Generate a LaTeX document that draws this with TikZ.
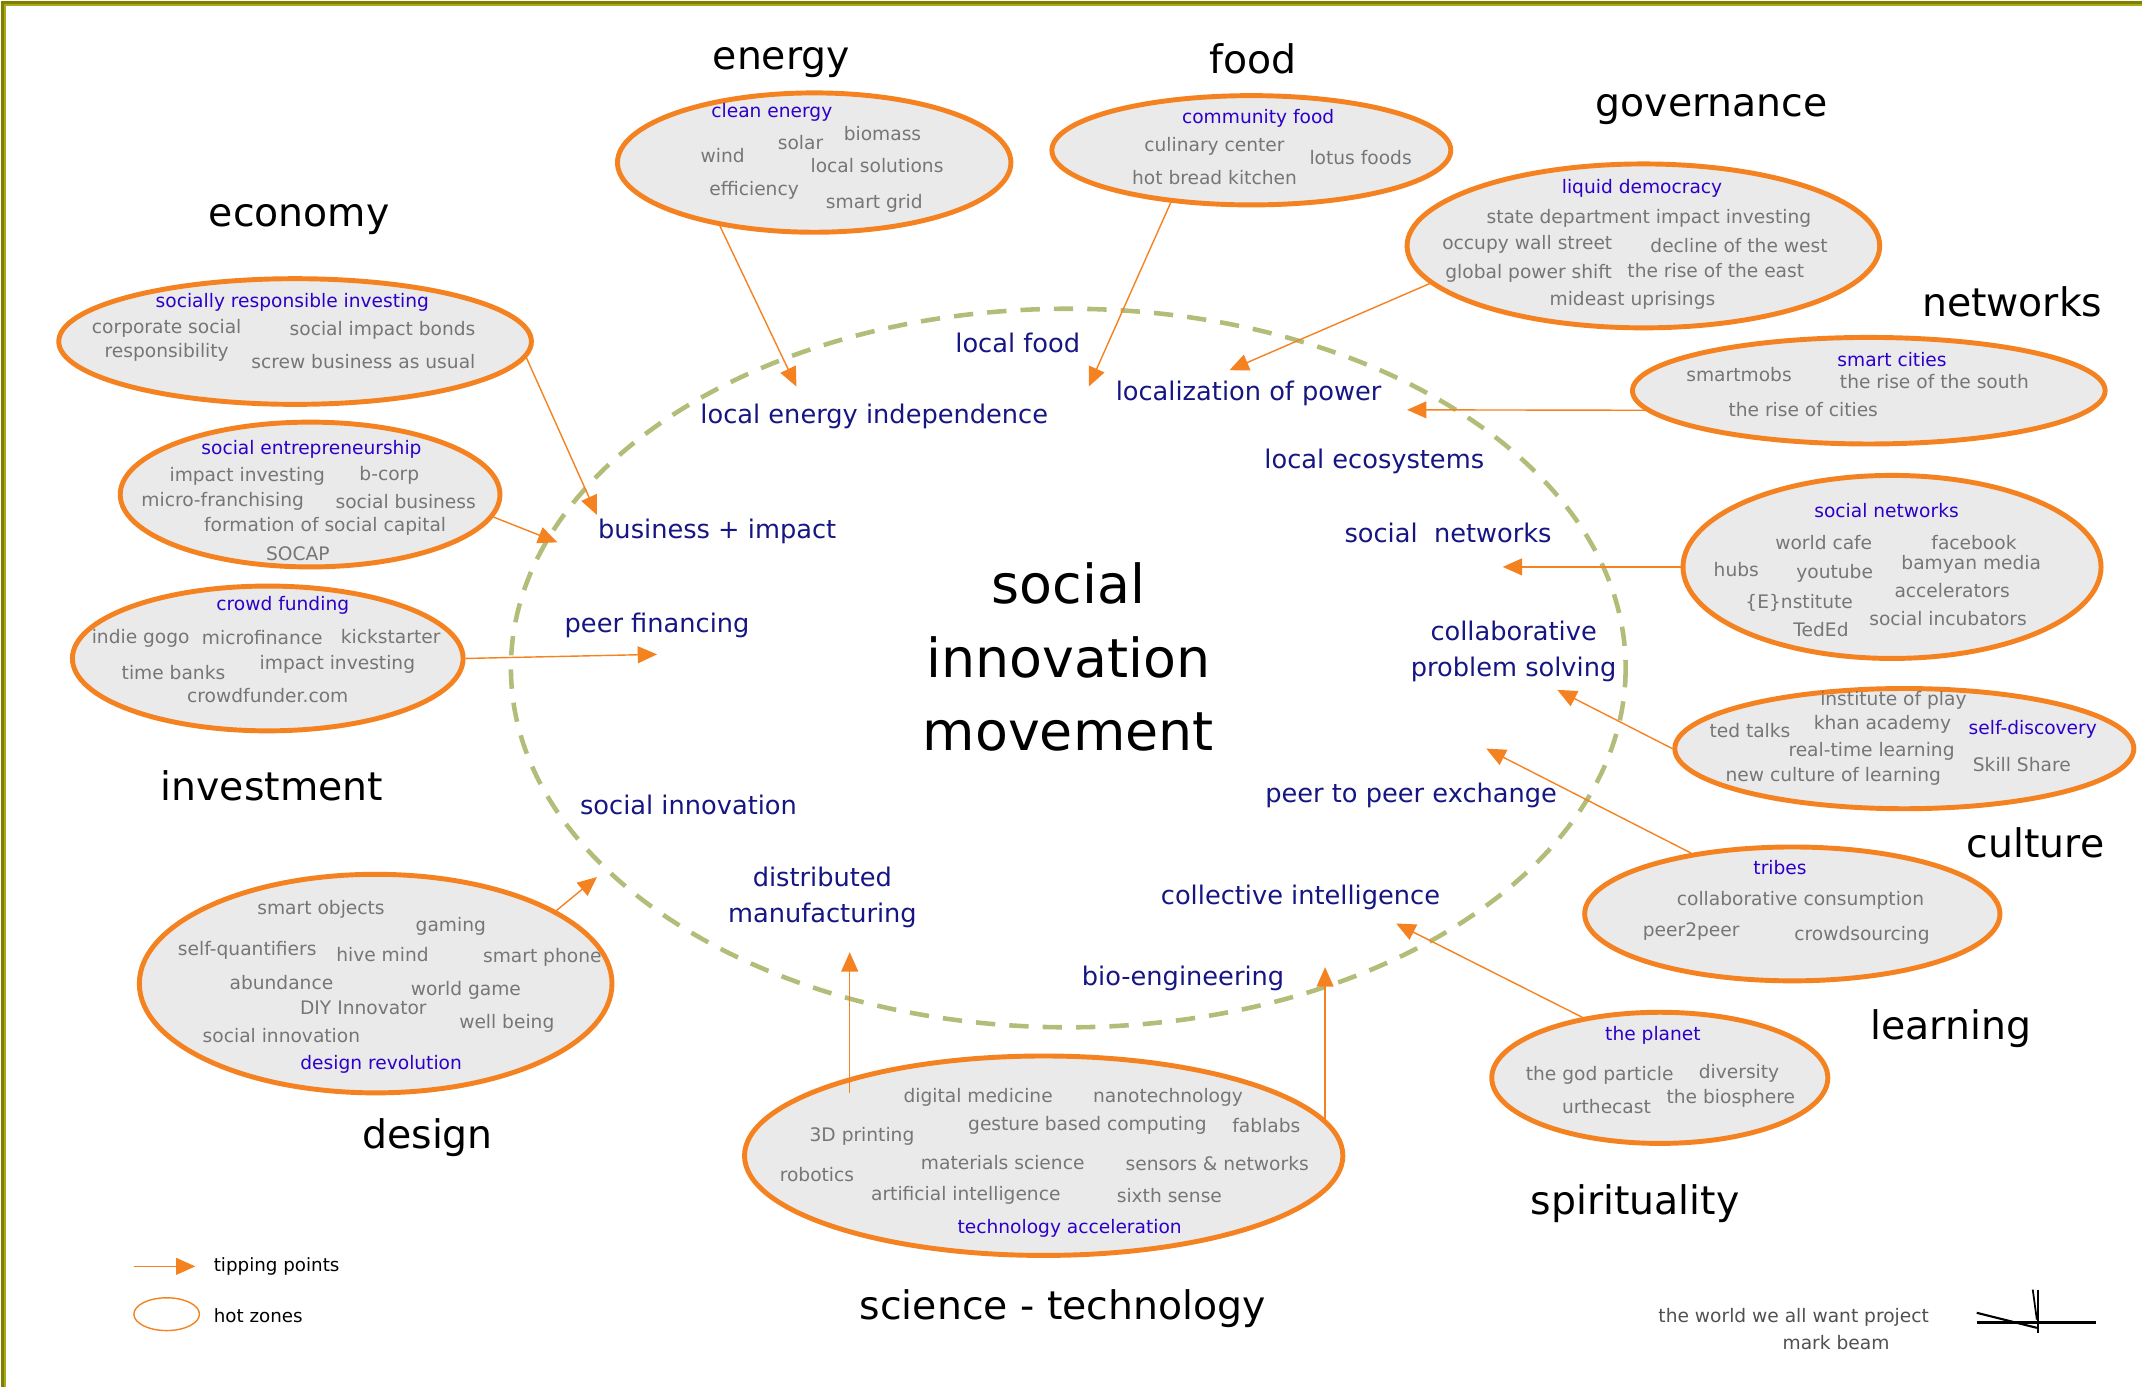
\documentclass[tikz,border=0pt]{standalone}
\usepackage{fontspec}
\setmainfont{DejaVu Sans}
\usetikzlibrary{shapes.geometric,arrows.meta}

\definecolor{hotorange}{RGB}{245,130,32}
\definecolor{zonegray}{RGB}{234,234,234}
\definecolor{wordgray}{RGB}{118,118,118}
\definecolor{headblue}{RGB}{45,0,200}
\definecolor{tipblue}{RGB}{22,22,130}
\definecolor{ringgreen}{RGB}{180,188,122}
\definecolor{frameolive}{RGB}{128,128,0}
\definecolor{frameyellow}{RGB}{170,170,20}
\definecolor{signgray}{RGB}{80,80,80}

\tikzset{
    hotzone/.style 2 args={ellipse, draw=hotorange, line width=1.4pt, fill=zonegray,
        inner sep=0pt, minimum width=#1*0.02732cm, minimum height=#2*0.02732cm},
    word/.style={text=wordgray, inner sep=0pt, font=\fontsize{5.3}{6.8}\selectfont, align=center},
    head/.style={word, text=headblue},
    tippoint/.style={text=tipblue, inner sep=0pt, font=\fontsize{7.3}{10.3}\selectfont, align=center},
    zone/.style={inner sep=0pt, font=\fontsize{11.2}{13}\selectfont},
    tipping/.style={draw=hotorange, line width=0.4pt, -{Triangle[length=5.5pt,width=4.8pt]}},
    movement/.style={draw=ringgreen, line width=1.3pt, dash pattern=on 5.5pt off 4pt},
}

\begin{document}
\begin{tikzpicture}[x=0.01366cm, y=-0.01366cm]
    \useasboundingbox (0,0) rectangle (1568,1015);
    \draw[frameolive, line width=0.85pt] (1568,1.8) -- (1.8,1.8) -- (1.8,1015);
    \draw[frameyellow, line width=0.55pt] (1568,3.6) -- (3.6,3.6) -- (3.6,1015);

    % hot zones
    \node[hotzone={144}{51}] (en) at (596,119) {};
    \node[hotzone={146}{40}] (fo) at (916,110) {};
    \node[hotzone={173}{60}] (go) at (1203,180) {};
    \node[hotzone={173}{46}] (ec) at (216,250) {};
    \node[hotzone={173}{39}] (ne) at (1368,286) {};
    \node[hotzone={139}{53}] (se) at (227,362) {};
    \node[hotzone={153}{67}] (sn) at (1385,415) {};
    \node[hotzone={143}{53}] (cf) at (196,482) {};
    \node[hotzone={168}{44}] (cu) at (1394,548) {};
    \node[hotzone={152}{49}] (tr) at (1312,669) {};
    \node[hotzone={173}{80}] (de) at (275,720) {};
    \node[hotzone={123}{48}] (pl) at (1215,789) {};
    \node[hotzone={219}{73}] (sc) at (764,846) {};

    % the movement
    \draw[movement] (782,489) ellipse [x radius=408, y radius=263];
    \node[align=center, inner sep=0pt, font=\fontsize{15.3}{20.9}\selectfont] (sim) at (782,481)
        {social\\innovation\\movement};

    % tipping points
    \node[tippoint] (p1) at (745,251) {local food};
    \node[tippoint] (p2) at (640,305) {local energy independence};
    \node[tippoint] (p3) at (914,288) {localization of power};
    \node[tippoint] (p4) at (1006,338) {local ecosystems};
    \node[tippoint] (p5) at (525,389) {business + impact};
    \node[tippoint] (p6) at (1060,390) {social\ \ networks};
    \node[tippoint] (p7) at (481,458) {peer financing};
    \node[tippoint] (p8) at (1108,477) {collaborative\\problem solving};
    \node[tippoint] (p9) at (504,589) {social innovation};
    \node[tippoint] (p10) at (1033,582) {peer to peer exchange};
    \node[tippoint] (p11) at (602,657) {distributed\\manufacturing};
    \node[tippoint] (p12) at (952,657) {collective intelligence};
    \node[tippoint] (p13) at (866,716) {bio-engineering};

    \coordinate (t1) at (583,283);
    \coordinate (t2) at (797,283);
    \coordinate (t3) at (900,271);
    \coordinate (t4) at (1030,300);
    \coordinate (t5) at (437,377);
    \coordinate (t6) at (408,397);
    \coordinate (t7) at (1100,415);
    \coordinate (t8) at (481,479);
    \coordinate (t9) at (1140,505);
    \coordinate (t10) at (1088,548);
    \coordinate (t11) at (437,642);
    \coordinate (t12) at (622,697);
    \coordinate (t13) at (970,708);
    \coordinate (t14) at (1022,676);

    \draw[tipping] (en.214) -- (t1);
    \draw[tipping] (fo.213) -- (t2);
    \draw[tipping] (go.190) -- (t3);
    \draw[tipping] (ne.185) -- (t4);
    \draw[tipping] (ec.-4) -- (t5);
    \draw[tipping] (se.-7) -- (t6);
    \draw[tipping] (sn.west) -- (t7);
    \draw[tipping] (cf.east) -- (t8);
    \draw[tipping] (cu.west) -- (t9);
    \draw[tipping] (tr.149) -- (t10);
    \draw[tipping] (de.22) -- (t11);
    \draw[tipping] ([yshift=-4pt]sc.159 -| t12) -- (t12);
    \draw[tipping] (sc.7 -| t13) -- (t13);
    \draw[tipping] (pl.142) -- (t14);

    % zone titles
    \node[zone] (zen) at (572,46) {energy};
    \node[zone] (zfo) at (917,43) {food};
    \node[zone] (zgo) at (1253,80) {governance};
    \node[zone] (zec) at (219,161) {economy};
    \node[zone] (zne) at (1473,221) {networks};
    \node[zone] (zin) at (199,575) {investment};
    \node[zone] (zcu) at (1490,617) {culture};
    \node[zone] (zle) at (1428,753) {learning};
    \node[zone] (zde) at (313,833) {design};
    \node[zone] (zsp) at (1197,881) {spirituality};
    \node[zone] (zsc) at (778,958) {science - technology};

    % energy
    \node[head] (en0) at (565,82) {clean energy};
    \node[word] (en1) at (586,104) {solar};
    \node[word] (en2) at (646,98) {biomass};
    \node[word] (en3) at (529,114) {wind};
    \node[word] (en4) at (642,121) {local solutions};
    \node[word] (en5) at (552,139) {efficiency};
    \node[word] (en6) at (640,149) {smart grid};

    % food
    \node[head] (fo0) at (921,87) {community food};
    \node[word] (fo1) at (889,107) {culinary center};
    \node[word] (fo2) at (996,115) {lotus foods};
    \node[word] (fo3) at (889,130) {hot bread kitchen};

    % governance
    \node[head] (go0) at (1202,138) {liquid democracy};
    \node[word] (go1) at (1207,160) {state department impact investing};
    \node[word] (go2) at (1118,179) {occupy wall street};
    \node[word] (go3) at (1273,180) {decline of the west};
    \node[word] (go4) at (1119,200) {global power shift};
    \node[word] (go5) at (1256,198) {the rise of the east};
    \node[word] (go6) at (1195,220) {mideast uprisings};

    % economy
    \node[head] (ec0) at (214,221) {socially responsible investing};
    \node[word] (ec1) at (122,249) {corporate social\\responsibility};
    \node[word] (ec2) at (280,242) {social impact bonds};
    \node[word] (ec3) at (266,265) {screw business as usual};

    % networks
    \node[head] (ne0) at (1385,263) {smart cities};
    \node[word] (ne1) at (1273,274) {smartmobs};
    \node[word] (ne2) at (1416,279) {the rise of the south};
    \node[word] (ne3) at (1320,300) {the rise of cities};

    % social entrepreneurship
    \node[head] (se0) at (228,329) {social entrepreneurship};
    \node[word] (se1) at (181,349) {impact investing};
    \node[word] (se2) at (285,348) {b-corp};
    \node[word] (se3) at (163,367) {micro-franchising};
    \node[word] (se4) at (297,367) {social business};
    \node[word] (se5) at (238,385) {formation of social capital};
    \node[word] (se6) at (218,405) {SOCAP};

    % social networks
    \node[head] (sn0) at (1381,374) {social networks};
    \node[word] (sn1) at (1335,397) {world cafe};
    \node[word] (sn2) at (1445,397) {facebook};
    \node[word] (sn3) at (1271,417) {hubs};
    \node[word] (sn4) at (1343,420) {youtube};
    \node[word] (sn5) at (1443,413) {bamyan media};
    \node[word] (sn6) at (1429,432) {accelerators};
    \node[word] (sn7) at (1317,441) {\{E\}nstitute};
    \node[word] (sn8) at (1333,461) {TedEd};
    \node[word] (sn9) at (1426,453) {social incubators};

    % crowd funding
    \node[head] (cf0) at (207,443) {crowd funding};
    \node[word] (cf1) at (103,467) {indie gogo};
    \node[word] (cf2) at (192,467) {microfinance};
    \node[word] (cf3) at (286,466) {kickstarter};
    \node[word] (cf4) at (127,492) {time banks};
    \node[word] (cf5) at (247,486) {impact investing};
    \node[word] (cf6) at (196,509) {crowdfunder.com};

    % culture
    \node[word] (cu1) at (1386,513) {institute of play};
    \node[word] (cu2) at (1281,535) {ted talks};
    \node[word] (cu3) at (1378,530) {khan academy};
    \node[head] (cu0) at (1488,534) {self-discovery};
    \node[word] (cu4) at (1370,550) {real-time learning};
    \node[word] (cu5) at (1342,568) {new culture of learning};
    \node[word] (cu6) at (1480,560) {Skill Share};

    % tribes
    \node[head] (tr0) at (1303,635) {tribes};
    \node[word] (tr1) at (1318,659) {collaborative consumption};
    \node[word] (tr2) at (1238,682) {peer2peer};
    \node[word] (tr3) at (1363,685) {crowdsourcing};

    % design
    \node[word] (de1) at (235,666) {smart objects};
    \node[word] (de2) at (330,678) {gaming};
    \node[word] (de3) at (181,696) {self-quantifiers};
    \node[word] (de4) at (280,699) {hive mind};
    \node[word] (de5) at (397,701) {smart phone};
    \node[word] (de6) at (206,719) {abundance};
    \node[word] (de7) at (341,725) {world game};
    \node[word] (de8) at (266,738) {DIY Innovator};
    \node[word] (de9) at (371,749) {well being};
    \node[word] (de10) at (206,758) {social innovation};
    \node[head] (de0) at (279,779) {design revolution};

    % the planet
    \node[head] (pl0) at (1210,758) {the planet};
    \node[word] (pl1) at (1171,787) {the god particle};
    \node[word] (pl2) at (1273,786) {diversity};
    \node[word] (pl3) at (1176,810) {urthecast};
    \node[word] (pl4) at (1267,804) {the biosphere};

    % science - technology
    \node[word] (sc1) at (716,803) {digital medicine};
    \node[word] (sc2) at (855,803) {nanotechnology};
    \node[word] (sc3) at (631,832) {3D printing};
    \node[word] (sc4) at (796,824) {gesture based computing};
    \node[word] (sc5) at (927,824) {fablabs};
    \node[word] (sc6) at (598,860) {robotics};
    \node[word] (sc7) at (734,851) {materials science};
    \node[word] (sc8) at (891,852) {sensors \& networks};
    \node[word] (sc9) at (707,875) {artificial intelligence};
    \node[word] (sc10) at (856,875) {sixth sense};
    \node[head] (sc0) at (783,899) {technology acceleration};

    % legend
    \coordinate (la) at (98,927);
    \coordinate (lb) at (143,927);
    \draw[tipping] (la) -- (lb);
    \node[anchor=west, inner sep=0pt, font=\fontsize{5.2}{6}\selectfont] (lt) at (156,927) {tipping points};
    \node[ellipse, draw=hotorange, line width=0.4pt, inner sep=0pt,
        minimum width=48*0.01366cm, minimum height=24*0.01366cm] (lz) at (122,962) {};
    \node[anchor=west, inner sep=0pt, font=\fontsize{5.2}{6}\selectfont] (lh) at (156,963) {hot zones};

    % signature
    \node[text=signgray, inner sep=0pt, font=\fontsize{5.3}{6.5}\selectfont] (wp) at (1313,964) {the world we all want project};
    \node[text=signgray, inner sep=0pt, font=\fontsize{5.3}{6.5}\selectfont] (mb) at (1344,983) {mark beam};
    \draw[line width=0.7pt] (1447,968) -- (1534,968);
    \draw[line width=0.6pt] (1447,961) -- (1491,972);
    \draw[line width=0.7pt] (1492,944) -- (1492,976);
    \draw[line width=0.5pt] (1488,944) -- (1491,966);
\end{tikzpicture}
\end{document}
